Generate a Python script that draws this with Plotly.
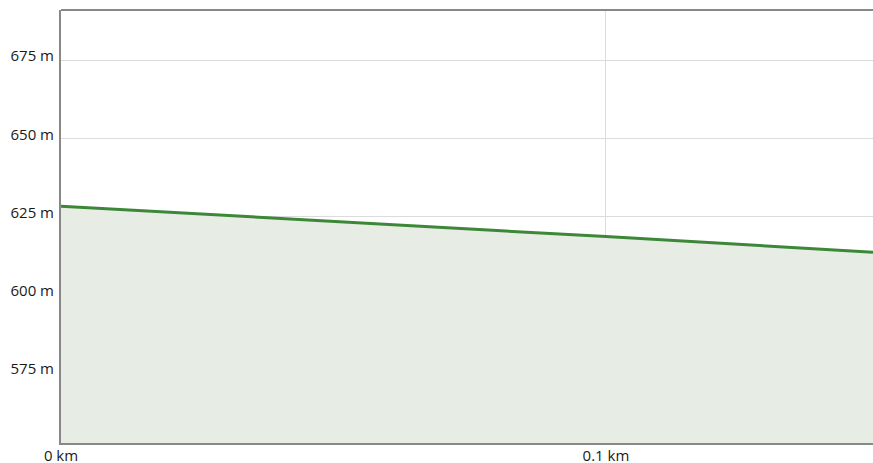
import plotly.graph_objects as go

distance_km = [0, 0.02, 0.04, 0.06, 0.08, 0.10, 0.12, 0.14, 0.149]
elevation_m = [628.3, 626.3, 624.3, 622.4, 620.5, 618.6, 616.5, 614.5, 613.6]
y_ticks = [575, 600, 625, 650, 675]
y_tick_labels = ["575 m", "600 m", "625 m", "650 m", "675 m"]
x_ticks = [0, 0.1]
x_tick_labels = ["0 km", "0.1 km"]

fig = go.Figure()
fig.add_trace(go.Scatter(
    x=distance_km, y=elevation_m, mode="lines",
    line=dict(color="#3c8738", width=3),
    fill="tozeroy", fillcolor="#e7ece4",
    hoverinfo="skip", showlegend=False,
))

fig.update_layout(
    width=873, height=463,
    margin=dict(l=61, r=0, t=10, b=20, autoexpand=False),
    paper_bgcolor="white", plot_bgcolor="white",
    font=dict(family="Open Sans", size=15, color="#1a1a1a"),
    xaxis=dict(range=[0, 0.149], tickvals=x_ticks, ticktext=x_tick_labels,
               showgrid=True, gridcolor="#dcdcdc", gridwidth=1,
               showline=True, linecolor="#888", linewidth=2,
               zeroline=False, ticks="", fixedrange=True, automargin=False,
               ticklabelstandoff=-2),
    yaxis=dict(range=[552.6, 691], tickvals=y_ticks, ticktext=y_tick_labels,
               showgrid=True, gridcolor="#dcdcdc", gridwidth=1,
               showline=True, linecolor="#888", linewidth=2,
               zeroline=False, ticks="", fixedrange=True, automargin=False,
               ticklabelshift=-4, ticklabelstandoff=2),
    shapes=[dict(type="line", xref="paper", yref="paper", x0=0, x1=1, y0=1, y1=1,
                 line=dict(color="#888", width=2))],
)

fig.write_html("out.html", config={"displayModeBar": False},
               post_script="document.body.style.margin='0';document.body.style.overflow='hidden';")
